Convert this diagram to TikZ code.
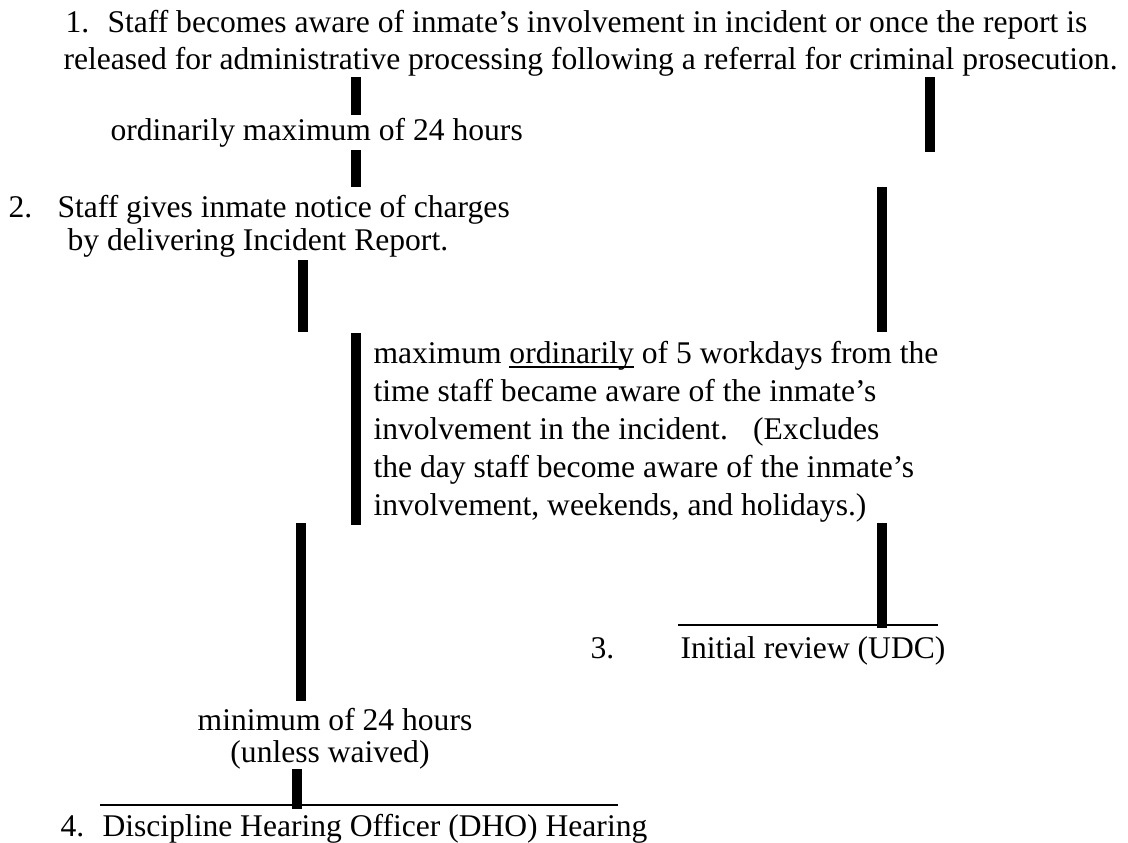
\documentclass[tikz,border=0pt]{standalone}
\usepackage{fontspec}
\setmainfont{Liberation Serif}
\usetikzlibrary{positioning}

% underline close to the baseline, as in the original form
\newcommand{\ulword}[1]{\setbox0\hbox{#1}\rlap{\rule[-1.8pt]{\wd0}{0.7pt}}\box0\relax}

\begin{document}
\begin{tikzpicture}[
  x=0.38pt, y=-0.38pt,
  every node/.style={font=\fontsize{12}{12.4}\selectfont, inner sep=0pt},
  txt/.style={anchor=base west},
  ctr/.style={anchor=base},
  bar/.style={line width=4pt},
  rule/.style={line width=1pt},
]
\useasboundingbox (0,0) rectangle (1128,842);

%% ── Step 1 ───────────────────────────────────────────────────────────────
\node[txt] (n1) at (65,32) {1.};
\node[txt] (s1a) at (107,32)
  {Staff becomes aware of inmate's involvement in incident or once the report is};
\node[txt] (s1b) at (63,69)
  {released for administrative processing following a referral for criminal prosecution.};

%% ── Step 1 → Step 2 ──────────────────────────────────────────────────────
\node[txt] (t24) at (110,140) {ordinarily maximum of 24 hours};

%% ── Step 2 ───────────────────────────────────────────────────────────────
\node[txt] (n2) at (8,217) {2.};
\node[txt] (s2a) at (57,217) {Staff gives inmate notice of charges};
\node[txt] (s2b) at (67,250) {by delivering Incident Report.};

%% ── Five workdays note ───────────────────────────────────────────────────
\node[txt] (w1) at (373,363) {maximum \ulword{ordinarily} of 5 workdays from the};
\node[txt] (w2) at (373,401) {time staff became aware of the inmate's};
\node[txt] (w3) at (373,439) {involvement in the incident.\hspace{0.8em}(Excludes};
\node[txt] (w4) at (373,477) {the day staff become aware of the inmate's};
\node[txt] (w5) at (373,515) {involvement, weekends, and holidays.)};

%% ── Step 3 ───────────────────────────────────────────────────────────────
\node[txt] (n3) at (590,658) {3.};
\node[txt] (s3) at (680,658) {Initial review (UDC)};

%% ── 24 hours before hearing ──────────────────────────────────────────────
\node[ctr] (m24) at (335,730) {minimum of 24 hours};
\node[ctr] (wv) at (330,762) {(unless waived)};

%% ── Step 4 ───────────────────────────────────────────────────────────────
\node[txt] (n4) at (60,836) {4.};
\node[txt] (s4) at (102,836) {Discipline Hearing Officer (DHO) Hearing};

%% bar ends
\coordinate (a1t) at (356,77);  \coordinate (a1b) at (356,115);
\coordinate (a2t) at (356,150); \coordinate (a2b) at (356,187);
\coordinate (r1t) at (930,77);  \coordinate (r1b) at (930,152);
\coordinate (r2t) at (882,187); \coordinate (r2b) at (882,332);
\coordinate (bt)  at (303,260); \coordinate (bb)  at (303,332);
\coordinate (wt)  at (356,333); \coordinate (wb)  at (356,525);
\coordinate (ct)  at (301,523); \coordinate (cb)  at (301,701);
\coordinate (r3t) at (882,523); \coordinate (r3b) at (882,628);
\coordinate (dt)  at (297,769); \coordinate (db)  at (297,809);
\coordinate (u3l) at (678,625); \coordinate (u3r) at (938,625);
\coordinate (u4l) at (100,805); \coordinate (u4r) at (618,805);

%% ── Left track ───────────────────────────────────────────────────────────
\draw[bar] (a1t) -- (a1b);
\draw[bar] (a2t) -- (a2b);
\draw[bar] (bt) -- (bb);
\draw[bar] (wt) -- (wb);
\draw[bar] (ct) -- (cb);
\draw[bar] (dt) -- (db);

%% ── Right track ──────────────────────────────────────────────────────────
\draw[bar] (r1t) -- (r1b);
\draw[bar] (r2t) -- (r2b);
\draw[bar] (r3t) -- (r3b);

%% rules over steps 3 and 4
\draw[rule] (u3l) -- (u3r);
\draw[rule] (u4l) -- (u4r);

\end{tikzpicture}
\end{document}
